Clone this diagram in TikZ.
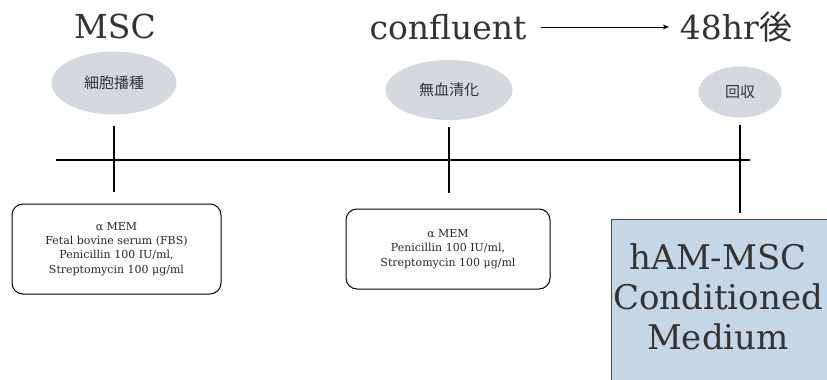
\documentclass[tikz,border=0pt]{standalone}
\usepackage{fontspec}
\setmainfont{DejaVu Serif}
\newfontfamily\jpfont{Noto Sans CJK JP}
\usetikzlibrary{shapes.geometric,arrows.meta}
\definecolor{stagegray}{HTML}{D4D8DF}
\definecolor{cmblue}{HTML}{C5D6E6}
\begin{document}
\begin{tikzpicture}[x=1pt, y=-1pt,
heading/.style={font=\fontsize{33}{36}\selectfont, text=black!80, inner sep=0pt},
stage/.style={ellipse, fill=stagegray, inner sep=0pt, font=\jpfont\fontsize{15}{17}\selectfont, text=black!80},
medium/.style={draw, line width=1pt, rounded corners=11pt, align=center, inner sep=0pt,
    font=\fontsize{11}{14.3}\selectfont, text=black!85},
timetick/.style={line width=1.3pt},
cmbox/.style={draw=black!70, fill=cmblue, line width=0.8pt, inner sep=0pt}]
\useasboundingbox (0,0) rectangle (827,380);
% headings
\node[heading] (msc) at (115,26) {MSC};
\node[heading] (conf) at (448,27) {confluent};
\node[heading] (h48) at (736,27) {48hr{\jpfont 後}};
\draw[line width=0.9pt, -{Stealth[length=6pt,width=5pt]}, shorten <=14pt, shorten >=11pt] (conf.east) -- (h48.west);
% stages
\node[stage, minimum width=125pt, minimum height=63pt] (seed) at (114,83) {細胞播種};
\node[stage, minimum width=127pt, minimum height=60pt] (serumfree) at (449,90) {無血清化};
\node[stage, minimum width=83pt, minimum height=51pt] (collect) at (740,92) {回収};
% media
\node[medium, minimum width=209pt, minimum height=90pt] (med1) at (116.5,249)
    {α MEM\\Fetal bovine serum (FBS)\\Penicillin 100 IU/ml,\\Streptomycin 100 μg/ml};
\node[medium, minimum width=204pt, minimum height=80pt] (med2) at (448,249)
    {α MEM\\Penicillin 100 IU/ml,\\Streptomycin 100 μg/ml};
\node[cmbox, minimum width=222pt, minimum height=180pt, anchor=north west] (cm) at (611,219) {};
\node[font=\fontsize{34}{40}\selectfont, text=black!80, align=center] (cmtext) at (718,297)
    {hAM-MSC\\Conditioned\\Medium};
% timeline
\coordinate (tlstart) at (56,160);
\coordinate (tlend) at (750,160);
\draw[timetick] (tlstart) -- (tlend);
\draw[timetick, shorten <=11pt, shorten >=12pt] (seed.south) -- (seed.south |- med1.north);
\draw[timetick, shorten <=7pt, shorten >=16pt] (serumfree.south) -- (serumfree.south |- med2.north);
\draw[timetick, shorten <=7pt, shorten >=6pt] (collect.south) -- (collect.south |- cm.north);
\end{tikzpicture}
\end{document}
